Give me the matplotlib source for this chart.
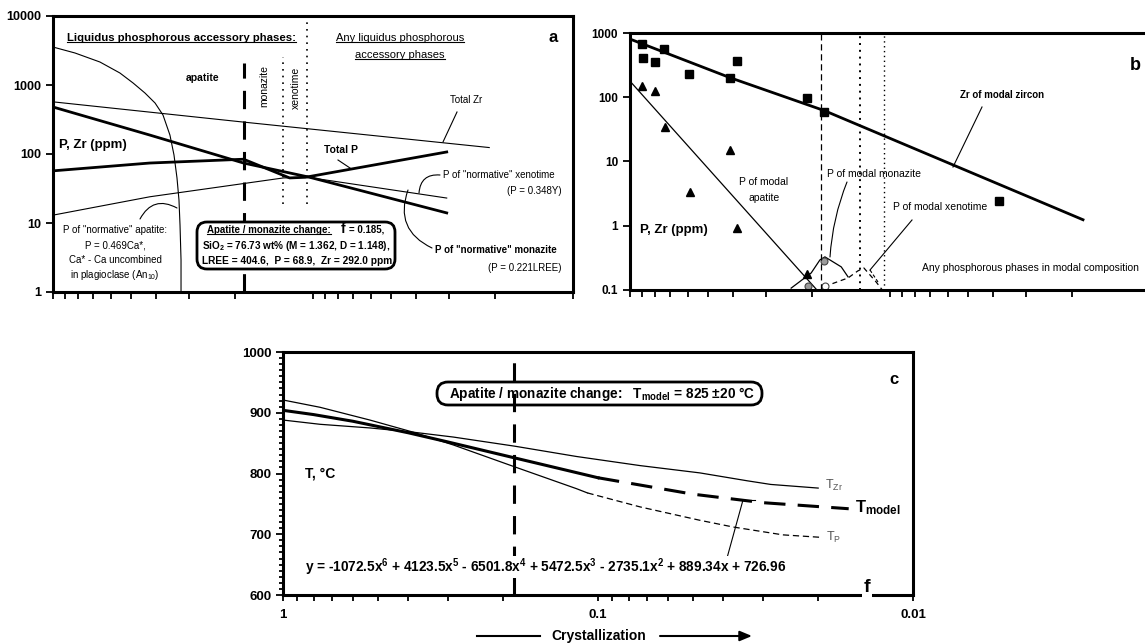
import matplotlib
matplotlib.use('Agg')
import matplotlib.pyplot as plt
from matplotlib.patches import FancyBboxPatch, FancyArrowPatch
from matplotlib.lines import Line2D
from matplotlib.ticker import LogLocator, NullFormatter, FixedLocator, MultipleLocator, NullLocator

plt.rcParams['font.family'] = ['Liberation Sans', 'DejaVu Sans']
plt.rcParams['mathtext.fontset'] = 'custom'
plt.rcParams['mathtext.rm'] = 'Liberation Sans'
plt.rcParams['mathtext.it'] = 'Liberation Sans:italic'
plt.rcParams['mathtext.bf'] = 'Liberation Sans:bold'

# ---------------- data ----------------
log_ticks_a = [1, 10, 100, 1000, 10000]
log_labels_a = ['1', '10', '100', '1000', '10000']
log_ticks_b = [0.1, 1, 10, 100, 1000]
log_labels_b = ['0.1', '1', '10', '100', '1000']
f_major = [1, 0.1, 0.01]
f_labels_c = ['1', '0.1', '0.01']
f_change = 0.185
f_dot1 = 0.130
f_dot2 = 0.105

# Panel a (f vs ppm)
a_apatite_f = [1.0, 0.823, 0.66, 0.553, 0.492, 0.443, 0.405, 0.3775, 0.355, 0.3425,
               0.3335, 0.3277, 0.3247, 0.3218, 0.3218]
a_apatite_P = [3550, 2910, 2154, 1493, 1069, 766, 548, 367, 188, 96.8,
               44.9, 21.5, 9.35, 2.91, 1.0]
a_zr_f = [1.0, 0.185, 0.021]
a_zr = [570, 290, 124]
a_monazite_f = [1.0, 0.424, 0.185, 0.103, 0.0306]
a_monazite_P = [480, 188, 74, 46, 14]
a_totalP_f = [1.0, 0.424, 0.185, 0.123, 0.107, 0.0306]
a_totalP = [57, 74, 84, 45, 46, 107]
a_xenotime_f = [1.0, 0.424, 0.130, 0.105, 0.0306]
a_xenotime_P = [13, 24, 45, 46, 23]

# Panel b (f vs ppm, modal)
b_sq_f = [0.90, 0.891, 0.80, 0.74, 0.593, 0.412, 0.388, 0.209, 0.179, 0.038]
b_sq_zr = [676, 406, 352, 562, 230, 198, 365, 96, 60, 2.46]
b_tri_f = [0.90, 0.80, 0.733, 0.588, 0.412, 0.388, 0.209]
b_tri_P = [148, 124, 34, 3.3, 14.9, 0.93, 0.18]
b_zircon_f = [1.0, 0.41, 0.179, 0.0181]
b_zircon_zr = [805, 200, 62, 1.24]
b_apatite_f = [1.0, 0.191]
b_apatite_P = [178, 0.1]
b_monazite_f = [0.240, 0.201, 0.186, 0.178, 0.154, 0.145]
b_monazite_P = [0.107, 0.184, 0.294, 0.328, 0.229, 0.16]
b_xenotime_f = [0.179, 0.145, 0.133, 0.126, 0.113, 0.107]
b_xenotime_P = [0.113, 0.154, 0.198, 0.22, 0.133, 0.1]
b_gray_f = [0.179, 0.207]
b_gray_P = [0.284, 0.115]
b_open_f = [0.178]
b_open_P = [0.115]

# Panel c (f vs T)
c_zr_f = [1, 0.763, 0.530, 0.386, 0.288, 0.184, 0.117, 0.0735, 0.0475, 0.0336, 0.0283, 0.020]
c_zr_T = [888, 881, 875, 868, 860, 845, 828, 813, 801, 788, 782, 776]
c_model_f = [1, 0.8, 0.6, 0.4, 0.3, 0.185, 0.1]
c_model_T = [904, 897, 886, 867, 852, 826, 793]
c_model_dash_f = [0.1, 0.05, 0.03, 0.016]
c_model_dash_T = [793, 766, 752, 742]
c_p_f = [1, 0.763, 0.530, 0.386, 0.288, 0.184, 0.117, 0.108]
c_p_T = [921, 909, 888, 868, 847, 811, 775, 768]
c_p_dash_f = [0.108, 0.0735, 0.0475, 0.0373, 0.0259, 0.0197]
c_p_dash_T = [768, 745, 723, 712, 699, 695]

# ---------------- figure ----------------
W, H = 1145, 643
fig = plt.figure(figsize=(W / 100, H / 100), dpi=100)


def rect(l, t, r, b):
    return [l / W, 1 - b / H, (r - l) / W, (b - t) / H]


def T(x, y, s, **kw):
    kw.setdefault('transform', fig.dpi_scale_trans)
    kw.setdefault('va', 'center')
    return fig.text(x / 100, (H - y) / 100, s, **kw)


def L(xs, ys, **kw):
    kw.setdefault('color', 'k')
    kw.setdefault('lw', 0.8)
    ln = Line2D([x / 100 for x in xs], [(H - y) / 100 for y in ys],
                transform=fig.dpi_scale_trans, **kw)
    fig.add_artist(ln)
    return ln


def arc(p0, p1, rad, lw=0.8):
    a = FancyArrowPatch((p0[0] / 100, (H - p0[1]) / 100), (p1[0] / 100, (H - p1[1]) / 100),
                        connectionstyle='arc3,rad=%g' % rad, arrowstyle='-', lw=lw,
                        color='k', transform=fig.dpi_scale_trans, shrinkA=0, shrinkB=0)
    fig.add_artist(a)


def rbox(x0, y0, x1, y1, r, lw=2, fc='white'):
    p = FancyBboxPatch((x0 / 100, (H - y1) / 100), (x1 - x0) / 100, (y1 - y0) / 100,
                       boxstyle='round,pad=0,rounding_size=%g' % r, lw=lw, ec='k', fc=fc,
                       transform=fig.dpi_scale_trans, zorder=2)
    fig.add_artist(p)


def style_axes(ax, lw=2.0):
    for s in ax.spines.values():
        s.set_linewidth(lw)
    ax.tick_params(axis='both', which='both', direction='out', width=1.3, color='k')


# ================= Panel a =================
axA = fig.add_axes(rect(53, 16, 573, 292))
axA.set_xscale('log'); axA.set_yscale('log')
axA.set_xlim(1, 0.01); axA.set_ylim(1, 10000)
style_axes(axA, 2.2)
axA.yaxis.set_major_locator(FixedLocator(log_ticks_a))
axA.set_yticklabels(log_labels_a, fontweight='bold', fontsize=9)
axA.yaxis.set_minor_locator(NullLocator())
axA.xaxis.set_major_locator(FixedLocator(f_major))
axA.xaxis.set_minor_locator(LogLocator(base=10, subs=range(2, 10)))
axA.xaxis.set_major_formatter(NullFormatter()); axA.xaxis.set_minor_formatter(NullFormatter())
axA.tick_params(axis='both', which='both', length=5)

axA.plot(a_apatite_f, a_apatite_P, color='k', lw=0.8)
axA.plot(a_zr_f, a_zr, color='k', lw=0.8)
axA.plot(a_xenotime_f, a_xenotime_P, color='k', lw=0.8)
axA.plot(a_monazite_f, a_monazite_P, color='k', lw=2.0)
axA.plot(a_totalP_f, a_totalP, color='k', lw=2.0)
axA.axvline(f_change, ymin=0.0, ymax=0.83, color='k', lw=2.2, dashes=(6, 4))
axA.axvline(f_dot1, ymin=0.32, ymax=0.85, color='k', lw=1.2, dashes=(1, 3))
axA.axvline(f_dot2, ymin=0.32, ymax=0.98, color='k', lw=1.2, dashes=(1, 3))

tA1 = T(67, 38, 'Liquidus phosphorous accessory phases:', fontsize=8.2, fontweight='bold', ha='left')
tA2 = T(400, 38, 'Any liquidus phosphorous', fontsize=8, ha='center')
tA3 = T(400, 55, 'accessory phases', fontsize=8, ha='center')
T(553, 38, 'a', fontsize=12, fontweight='bold', ha='center')
T(203, 78, 'apatite', fontsize=7.5, fontweight='bold', ha='center')
T(264, 86, 'monazite', fontsize=7.5, ha='center', rotation=90)
T(296, 88, 'xenotime', fontsize=7.5, ha='center', rotation=90)
T(59, 145, 'P, Zr (ppm)', fontsize=9.5, fontweight='bold', ha='left')
T(466, 100, 'Total Zr', fontsize=7, ha='center')
T(341, 150, 'Total P', fontsize=7.5, fontweight='bold', ha='center')
T(443, 175, 'P of "normative" xenotime', fontsize=7, ha='left')
T(562, 191, '(P = 0.348Y)', fontsize=7, ha='right')
T(435, 250, 'P of "normative" monazite', fontsize=7, fontweight='bold', ha='left')
T(562, 268, '(P = 0.221LREE)', fontsize=7, ha='right')
T(115, 230, 'P of "normative" apatite:', fontsize=7, ha='center')
T(115, 245, 'P = 0.469Ca*,', fontsize=7, ha='center')
T(115, 260, 'Ca* - Ca uncombined', fontsize=7, ha='center')
T(115, 275, r'in plagioclase (An$_{10}$)', fontsize=7, ha='center')

L([457, 443], [112, 142])
L([338, 350], [160, 168])
arc((419, 193), (440, 175), -0.5)
arc((408, 190), (432, 248), 0.45)
arc((140, 219), (177, 208), -0.5)

rbox(197, 222, 395, 269, 0.1, lw=2)
tA4 = T(207, 230, 'Apatite / monazite change:', fontsize=7, fontweight='bold', ha='left', zorder=3)
T(341, 229, 'f', fontsize=10, fontweight='bold', ha='left', zorder=3)
T(349, 230, '= 0.185,', fontsize=7, fontweight='bold', ha='left', zorder=3)
T(202, 246, r'SiO$_\mathbf{2}$ = 76.73 wt% (M = 1.362, D = 1.148),', fontsize=7.2,
  fontweight='bold', ha='left', zorder=3)
T(202, 261, 'LREE = 404.6,  P = 68.9,  Zr = 292.0 ppm', fontsize=7.3, fontweight='bold',
  ha='left', zorder=3)

# ================= Panel b =================
axB = fig.add_axes(rect(630, 33, 1150, 290))
axB.set_xscale('log'); axB.set_yscale('log')
axB.set_xlim(1, 0.01); axB.set_ylim(0.1, 1000)
style_axes(axB, 2.2)
axB.spines['right'].set_visible(False)
axB.yaxis.set_major_locator(FixedLocator(log_ticks_b))
axB.set_yticklabels(log_labels_b, fontweight='bold', fontsize=8.5)
axB.yaxis.set_minor_locator(NullLocator())
axB.xaxis.set_major_locator(FixedLocator(f_major))
axB.xaxis.set_minor_locator(LogLocator(base=10, subs=range(2, 10)))
axB.xaxis.set_major_formatter(NullFormatter()); axB.xaxis.set_minor_formatter(NullFormatter())
axB.tick_params(axis='both', which='both', length=5)

axB.plot(b_zircon_f, b_zircon_zr, color='k', lw=2.0)
axB.plot(b_apatite_f, b_apatite_P, color='k', lw=0.9)
axB.plot(b_monazite_f, b_monazite_P, color='k', lw=0.9)
axB.plot(b_xenotime_f, b_xenotime_P, color='k', lw=0.9, dashes=(4, 3))
axB.plot(b_sq_f, b_sq_zr, 's', color='k', ms=6, ls='none')
axB.plot(b_tri_f, b_tri_P, '^', color='k', ms=6, ls='none')
axB.plot(b_gray_f, b_gray_P, 'o', mfc='#9a9a9a', mec='#444444', ms=5, ls='none', mew=0.8)
axB.plot(b_open_f, b_open_P, 'o', mfc='white', mec='#444444', ms=5, ls='none', mew=0.8)
axB.axvline(f_change, color='k', lw=0.9, dashes=(5, 3))
axB.axvline(f_dot1, color='k', lw=1.4, dashes=(1, 2.5))
axB.axvline(f_dot2, color='k', lw=1.0, dashes=(1, 2.5))

T(1135, 65, 'b', fontsize=13, fontweight='bold', ha='center')
T(1002, 95, 'Zr of modal zircon', fontsize=7, fontweight='bold', ha='center')
T(764, 182, 'P of modal', fontsize=7.5, ha='center')
T(764, 198, 'apatite', fontsize=7.5, ha='center')
T(827, 174, 'P of modal monazite', fontsize=7.5, ha='left')
T(893, 207, 'P of modal xenotime', fontsize=7.5, ha='left')
T(922, 268, 'Any phosphorous phases in modal composition', fontsize=7.5, ha='left')
T(640, 230, 'P, Zr (ppm)', fontsize=9.5, fontweight='bold', ha='left')
L([982, 953], [107, 167])
arc((847, 182), (830, 257), 0.08)
L([912, 870], [220, 270])
L([870, 878], [270, 282], dashes=(3, 2))

# ================= Panel c =================
axC = fig.add_axes(rect(283, 352, 913, 595))
axC.set_xscale('log')
axC.set_xlim(1, 0.01); axC.set_ylim(600, 1000)
style_axes(axC, 2.2)
axC.yaxis.set_major_locator(MultipleLocator(100))
axC.yaxis.set_minor_locator(MultipleLocator(10))
axC.xaxis.set_major_locator(FixedLocator(f_major))
axC.xaxis.set_minor_locator(LogLocator(base=10, subs=range(2, 10)))
axC.xaxis.set_minor_formatter(NullFormatter())
axC.set_xticklabels(f_labels_c, fontweight='bold', fontsize=9.5)
for lab in axC.get_yticklabels():
    lab.set_fontweight('bold'); lab.set_fontsize(9.5)
axC.tick_params(axis='y', which='major', length=5)
axC.tick_params(axis='y', which='minor', length=3)
axC.tick_params(axis='x', which='both', length=4, pad=6)

axC.plot(c_zr_f, c_zr_T, color='k', lw=0.9)
axC.plot(c_p_f, c_p_T, color='k', lw=0.9)
axC.plot(c_p_dash_f, c_p_dash_T, color='k', lw=0.9, dashes=(5, 3))
axC.plot(c_model_f, c_model_T, color='k', lw=2.2)
axC.plot(c_model_dash_f, c_model_dash_T, color='k', lw=2.2, dashes=(7, 4))
axC.axvline(f_change, color='k', lw=2.2, dashes=(6, 4))

rbox(437, 382, 762, 405, 0.11, lw=2, fc='none')
T(449, 394, r'Apatite / monazite change:   T$_\mathbf{model}$ = 825 $\mathbf{\pm}$20 °C',
  fontsize=9.8, fontweight='bold', ha='left', zorder=3)
T(894, 380, 'c', fontsize=12, fontweight='bold', ha='center')
T(305, 473, 'T, °C', fontsize=10, fontweight='bold', ha='left')
T(305, 567, r'y = -1072.5x$^\mathbf{6}$ + 4123.5x$^\mathbf{5}$ - 6501.8x$^\mathbf{4}$ + 5472.5x$^\mathbf{3}$'
  r' - 2735.1x$^\mathbf{2}$ + 889.34x + 726.96', fontsize=9.8, fontweight='bold', ha='left',
  bbox=dict(fc='white', ec='none', pad=0.5), zorder=3)
T(825, 485, r'T$_\mathrm{Zr}$', fontsize=9, color='#555555', ha='left')
T(855, 508, r'T$_\mathbf{model}$', fontsize=12, fontweight='bold', ha='left')
T(826, 537, r'T$_\mathrm{P}$', fontsize=9, color='#555555', ha='left')
T(867, 588, 'f', fontsize=14, fontweight='bold', ha='center',
  bbox=dict(fc='white', ec='none', pad=1), zorder=3)
L([727, 743], [558, 500])
L([743, 755], [500, 500])

T(599, 636, 'Crystallization', fontsize=10, fontweight='bold', ha='center')
L([477, 540], [636, 636], lw=1.5)
ar = FancyArrowPatch((660 / 100, (H - 636) / 100), (752 / 100, (H - 636) / 100),
                     arrowstyle='-|>,head_length=0.6,head_width=0.25', lw=1.5, color='k',
                     transform=fig.dpi_scale_trans, mutation_scale=12, shrinkA=0, shrinkB=0)
fig.add_artist(ar)

# underlines
fig.canvas.draw()
rend = fig.canvas.get_renderer()
for t in (tA1, tA2, tA3, tA4):
    bb = t.get_window_extent(rend)
    L([bb.x0, bb.x1], [H - bb.y0 - 1.5, H - bb.y0 - 1.5], lw=0.8, zorder=4)

fig.savefig('out.png', dpi=100)
